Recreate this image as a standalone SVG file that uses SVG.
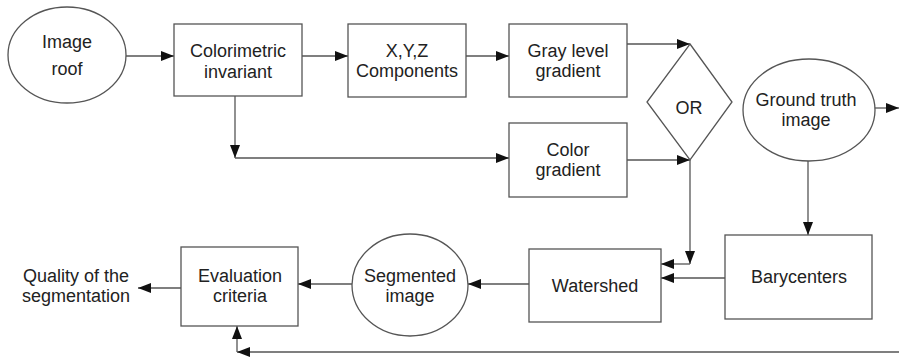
<svg xmlns="http://www.w3.org/2000/svg" width="899" height="358" viewBox="0 0 899 358">
<defs>
<marker id="arr" markerUnits="userSpaceOnUse" markerWidth="14" markerHeight="10" refX="13" refY="5" orient="auto">
<path d="M0,0 L13,5 L0,10 Z" fill="#111"/>
</marker>
<style>
.s{fill:#fff;stroke:#555;stroke-width:1.3}
.c{fill:none;stroke:#555;stroke-width:1.3;marker-end:url(#arr)}
.l{fill:none;stroke:#555;stroke-width:1.3}
text{font-family:"Liberation Sans",Arial,sans-serif;font-size:18px;fill:#222;text-anchor:middle}
</style>
</defs>
<rect width="899" height="358" fill="#fff"/>
<g id="connectors">
<line class="c" x1="126" y1="56" x2="174" y2="56"/>
<line class="c" x1="302" y1="56" x2="348" y2="56"/>
<line class="c" x1="466" y1="56" x2="509" y2="56"/>
<line class="c" x1="627" y1="44" x2="690" y2="44"/>
<path class="c" d="M235,96 V158"/>
<line class="c" x1="235" y1="158" x2="509" y2="158"/>
<line class="c" x1="627" y1="160" x2="690" y2="160"/>
<path class="c" d="M690,160 V264"/>
<line class="c" x1="690" y1="264" x2="661" y2="264"/>
<line class="c" x1="875" y1="108" x2="899" y2="108"/>
<line class="c" x1="808" y1="161" x2="808" y2="235"/>
<line class="c" x1="725" y1="278" x2="661" y2="278"/>
<line class="c" x1="529" y1="284" x2="468" y2="284"/>
<line class="c" x1="352" y1="284" x2="298" y2="284"/>
<line class="c" x1="181" y1="288" x2="138" y2="288"/>
<line class="c" x1="899" y1="352" x2="237" y2="352"/>
<line class="c" x1="237" y1="352" x2="237" y2="326"/>
</g>
<g id="image-roof">
<ellipse class="s" cx="67" cy="55" rx="59" ry="48"/>
<text x="67" y="48">Image</text>
<text x="67" y="75">roof</text>
</g>
<g id="colorimetric">
<rect class="s" x="174" y="24" width="128" height="72"/>
<text x="238" y="57">Colorimetric</text>
<text x="238" y="78">invariant</text>
</g>
<g id="xyz">
<rect class="s" x="348" y="24" width="118" height="73"/>
<text x="407" y="57">X,Y,Z</text>
<text x="407" y="77">Components</text>
</g>
<g id="gray">
<rect class="s" x="509" y="24" width="118" height="73"/>
<text x="568" y="57">Gray level</text>
<text x="568" y="77">gradient</text>
</g>
<g id="color">
<rect class="s" x="509" y="123" width="118" height="74"/>
<text x="568" y="156">Color</text>
<text x="568" y="176">gradient</text>
</g>
<g id="or">
<polygon class="s" points="690,44 732,102 690,160 647,102"/>
<text x="689" y="114">OR</text>
</g>
<g id="ground-truth">
<ellipse class="s" cx="809" cy="110" rx="66" ry="51"/>
<text x="806" y="106">Ground truth</text>
<text x="806" y="126">image</text>
</g>
<g id="barycenters">
<rect class="s" x="725" y="235" width="147" height="84"/>
<text x="799" y="283">Barycenters</text>
</g>
<g id="watershed">
<rect class="s" x="529" y="249" width="132" height="73"/>
<text x="595" y="292">Watershed</text>
</g>
<g id="segmented">
<ellipse class="s" cx="410" cy="285" rx="58" ry="51"/>
<text x="410" y="282">Segmented</text>
<text x="410" y="302">image</text>
</g>
<g id="evaluation">
<rect class="s" x="181" y="247" width="117" height="79"/>
<text x="240" y="282">Evaluation</text>
<text x="240" y="302">criteria</text>
</g>
<g id="quality">
<text x="76" y="282">Quality of the</text>
<text x="76" y="302">segmentation</text>
</g>
</svg>
